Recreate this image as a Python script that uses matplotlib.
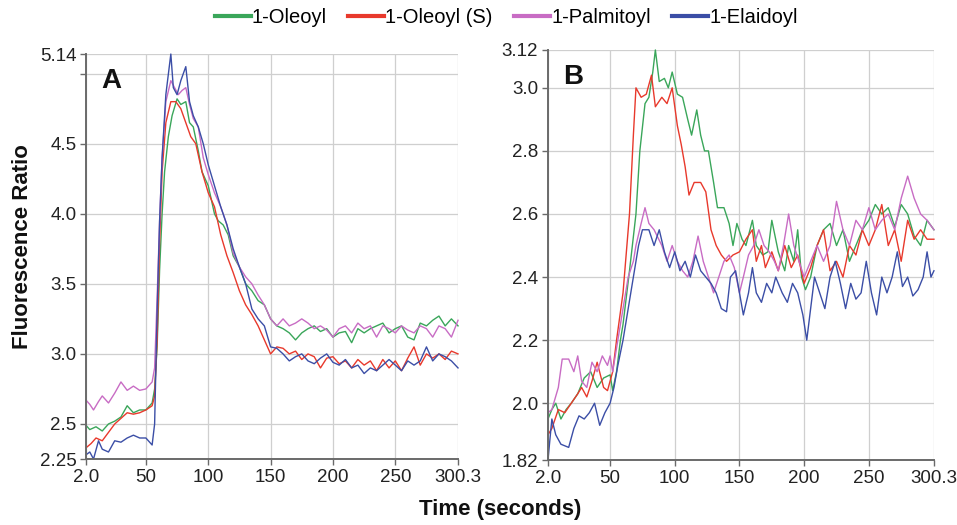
#!/usr/bin/env python3
"""
Fluorescence ratio traces, panels A and B, four lipid species.
Values read off the reference figure by eye.
"""

import matplotlib
matplotlib.use('Agg')
import matplotlib.pyplot as plt

plt.rcParams['font.family'] = ['Liberation Sans', 'DejaVu Sans']

# ---------- Series labels / colours ------------------------------------------

labels = ['1-Oleoyl', '1-Oleoyl (S)', '1-Palmitoyl', '1-Elaidoyl']
colors = ['#3aa65a', '#e8392c', '#c86cc4', '#3b4ea6']

# ---------- Panel A ----------------------------------------------------------

a_ole_t = [2, 5, 10, 15, 20, 25, 30, 35, 40, 45, 50, 55, 57, 59, 61, 63, 65, 68,
           71, 75, 78, 82, 85, 88, 92, 95, 100, 105, 108, 112, 116, 120, 125, 130,
           135, 140, 145, 150, 155, 160, 165, 170, 175, 180, 185, 190, 195, 200,
           205, 210, 215, 220, 225, 230, 235, 240, 245, 250, 255, 260, 265, 270,
           275, 280, 285, 290, 295, 300.3]
a_ole_v = [2.49, 2.46, 2.48, 2.45, 2.5, 2.52, 2.55, 2.63, 2.58, 2.6, 2.6, 2.65, 2.75,
           3.05, 3.6, 4.0, 4.3, 4.55, 4.7, 4.82, 4.78, 4.8, 4.65, 4.62, 4.45, 4.3,
           4.2, 4.0, 3.95, 3.92, 3.85, 3.7, 3.62, 3.5, 3.45, 3.38, 3.35, 3.25, 3.2,
           3.18, 3.15, 3.1, 3.15, 3.18, 3.2, 3.16, 3.18, 3.12, 3.15, 3.16, 3.08,
           3.18, 3.15, 3.18, 3.2, 3.22, 3.15, 3.18, 3.2, 3.12, 3.1, 3.22, 3.2, 3.24,
           3.27, 3.2, 3.25, 3.2]

a_oles_t = [2, 6, 10, 15, 20, 25, 30, 35, 40, 45, 50, 55, 57, 59, 61, 63, 66, 70, 74,
            78, 82, 86, 90, 95, 100, 105, 110, 115, 120, 125, 130, 135, 140, 145, 150,
            155, 160, 165, 170, 175, 180, 185, 190, 195, 200, 205, 210, 215, 220, 225,
            230, 235, 240, 245, 250, 255, 260, 265, 270, 275, 280, 285, 290, 295, 300.3]
a_oles_v = [2.33, 2.36, 2.4, 2.38, 2.44, 2.5, 2.54, 2.58, 2.57, 2.58, 2.6, 2.63, 2.7,
            3.1, 3.8, 4.3, 4.65, 4.8, 4.8, 4.75, 4.65, 4.55, 4.5, 4.3, 4.15, 4.05,
            3.85, 3.7, 3.58, 3.45, 3.35, 3.28, 3.2, 3.1, 3.0, 3.05, 3.04, 3.0, 3.02,
            2.96, 3.0, 2.98, 2.9, 2.97, 2.98, 2.93, 2.95, 2.9, 2.96, 2.92, 2.95, 2.88,
            2.96, 2.9, 2.95, 2.88, 2.97, 3.05, 2.92, 3.0, 2.97, 3.0, 2.96, 3.02, 3.0]

a_pal_t = [2, 5, 8, 12, 15, 20, 25, 30, 35, 40, 45, 50, 55, 57, 59, 61, 63, 66, 70,
           73, 76, 79, 82, 85, 88, 92, 96, 100, 105, 110, 115, 120, 125, 130, 135,
           140, 145, 150, 155, 160, 165, 170, 175, 180, 185, 190, 195, 200, 205, 210,
           215, 220, 225, 230, 235, 240, 245, 250, 255, 260, 265, 270, 275, 280, 285,
           290, 295, 300.3]
a_pal_v = [2.67, 2.64, 2.6, 2.66, 2.7, 2.65, 2.72, 2.8, 2.74, 2.77, 2.74, 2.75, 2.8,
           2.9, 3.4, 3.95, 4.4, 4.8, 4.95, 4.9, 4.85, 4.88, 4.9, 4.78, 4.68, 4.62, 4.4,
           4.28, 4.15, 4.05, 3.92, 3.72, 3.62, 3.55, 3.5, 3.42, 3.35, 3.25, 3.2, 3.25,
           3.2, 3.22, 3.25, 3.22, 3.18, 3.2, 3.17, 3.12, 3.18, 3.2, 3.15, 3.22, 3.18,
           3.2, 3.12, 3.2, 3.18, 3.15, 3.2, 3.17, 3.15, 3.2, 3.18, 3.12, 3.2, 3.18,
           3.12, 3.24]

a_ela_t = [2, 5, 8, 12, 15, 20, 25, 30, 35, 40, 45, 50, 55, 57, 59, 61, 63, 66, 70,
           72, 75, 78, 82, 85, 88, 92, 96, 100, 105, 110, 115, 120, 125, 130, 135,
           140, 145, 150, 155, 160, 165, 170, 175, 180, 185, 190, 195, 200, 205, 210,
           215, 220, 225, 230, 235, 240, 245, 250, 255, 260, 265, 270, 275, 280, 285,
           290, 295, 300.3]
a_ela_v = [2.28, 2.3, 2.25, 2.38, 2.32, 2.3, 2.38, 2.37, 2.4, 2.42, 2.4, 2.4, 2.35,
           2.5, 3.3, 3.95, 4.4, 4.85, 5.14, 4.9, 4.85, 4.95, 5.05, 4.8, 4.7, 4.62,
           4.5, 4.35, 4.2, 4.05, 3.92, 3.75, 3.62, 3.5, 3.32, 3.25, 3.2, 3.05, 3.04,
           3.0, 2.95, 2.98, 3.0, 2.95, 2.93, 2.97, 3.0, 2.94, 2.92, 2.96, 2.9, 2.92,
           2.86, 2.9, 2.88, 2.92, 2.96, 2.92, 2.88, 2.95, 2.92, 2.95, 3.05, 2.95,
           3.0, 2.98, 2.95, 2.9]

# ---------- Panel B ----------------------------------------------------------

b_ole_t = [2, 5, 8, 12, 16, 20, 25, 30, 35, 40, 45, 50, 52, 55, 58, 60, 65, 70, 73,
           77, 80, 83, 85, 88, 92, 95, 98, 102, 106, 110, 113, 117, 120, 123, 126,
           130, 133, 138, 142, 145, 148, 152, 155, 160, 163, 168, 172, 175, 180, 185,
           188, 192, 195, 198, 201, 205, 210, 215, 220, 225, 230, 235, 240, 245, 250,
           255, 260, 265, 270, 275, 280, 285, 290, 295, 300.3]
b_ole_v = [1.95, 1.98, 2.0, 1.95, 1.98, 2.0, 2.03, 2.08, 2.1, 2.05, 2.08, 2.09, 2.04,
           2.1, 2.2, 2.25, 2.42, 2.6, 2.8, 2.95, 2.97, 3.05, 3.12, 3.02, 3.03, 3.0,
           3.05, 2.98, 2.97, 2.9, 2.85, 2.93, 2.85, 2.8, 2.8, 2.7, 2.62, 2.62, 2.57,
           2.5, 2.57, 2.52, 2.5, 2.58, 2.5, 2.47, 2.48, 2.58, 2.48, 2.42, 2.5, 2.45,
           2.55, 2.4, 2.36, 2.4, 2.5, 2.55, 2.57, 2.5, 2.55, 2.45, 2.5, 2.55, 2.58,
           2.63, 2.6, 2.62, 2.56, 2.63, 2.6, 2.53, 2.5, 2.58, 2.55]

b_oles_t = [2, 5, 10, 15, 20, 25, 28, 32, 36, 40, 45, 48, 52, 55, 60, 65, 68, 70, 74,
            78, 82, 85, 90, 94, 98, 102, 105, 108, 111, 115, 120, 124, 128, 132, 136,
            140, 145, 150, 155, 160, 163, 167, 170, 175, 180, 185, 190, 195, 200, 205,
            210, 215, 220, 225, 230, 235, 240, 245, 250, 255, 260, 265, 270, 275, 280,
            285, 290, 295, 300.3]
b_oles_v = [1.9, 1.92, 1.98, 1.97, 2.0, 2.03, 2.05, 2.02, 2.07, 2.13, 2.05, 2.04, 2.1,
            2.2, 2.35, 2.6, 2.85, 3.0, 2.97, 2.98, 3.04, 2.94, 2.97, 2.95, 3.0, 2.88,
            2.82, 2.75, 2.66, 2.7, 2.7, 2.67, 2.55, 2.5, 2.47, 2.45, 2.47, 2.48, 2.52,
            2.55, 2.45, 2.5, 2.43, 2.48, 2.42, 2.5, 2.43, 2.47, 2.38, 2.43, 2.5, 2.55,
            2.42, 2.45, 2.4, 2.5, 2.47, 2.55, 2.5, 2.55, 2.63, 2.5, 2.55, 2.45, 2.58,
            2.52, 2.55, 2.52, 2.52]

b_pal_t = [2, 5, 10, 13, 18, 22, 25, 28, 32, 36, 40, 44, 48, 50, 52, 56, 60, 64, 68,
           70, 74, 77, 80, 84, 90, 94, 98, 102, 106, 110, 114, 118, 122, 126, 130,
           134, 138, 142, 146, 150, 153, 157, 161, 165, 169, 173, 177, 180, 184, 188,
           192, 196, 200, 205, 210, 215, 220, 225, 230, 235, 240, 245, 250, 255, 260,
           265, 270, 275, 280, 285, 290, 295, 300.3]
b_pal_v = [1.97, 1.98, 2.05, 2.14, 2.14, 2.1, 2.15, 2.07, 2.05, 2.13, 2.1, 2.15, 2.12,
           2.15, 2.1, 2.2, 2.3, 2.4, 2.45, 2.5, 2.57, 2.62, 2.57, 2.55, 2.5, 2.45, 2.5,
           2.45, 2.42, 2.4, 2.45, 2.53, 2.45, 2.4, 2.35, 2.4, 2.45, 2.47, 2.43, 2.35,
           2.4, 2.47, 2.5, 2.55, 2.5, 2.48, 2.45, 2.42, 2.5, 2.6, 2.5, 2.45, 2.4, 2.45,
           2.5, 2.45, 2.5, 2.64, 2.55, 2.5, 2.58, 2.55, 2.62, 2.55, 2.58, 2.6, 2.55,
           2.65, 2.72, 2.65, 2.6, 2.58, 2.55]

b_ela_t = [2, 5, 8, 12, 18, 22, 26, 30, 34, 38, 42, 46, 50, 53, 56, 60, 64, 68, 72,
           75, 80, 84, 88, 92, 96, 100, 104, 108, 112, 116, 120, 124, 128, 132, 136,
           140, 143, 147, 150, 153, 157, 160, 163, 167, 171, 175, 178, 183, 187, 191,
           195, 199, 202, 205, 208, 212, 216, 220, 224, 228, 232, 236, 240, 244, 248,
           252, 256, 260, 264, 268, 272, 276, 280, 284, 288, 292, 295, 298, 300.3]
b_ela_v = [1.82, 1.95, 1.9, 1.87, 1.86, 1.92, 1.96, 1.95, 1.97, 2.0, 1.93, 1.97, 2.0,
           2.05, 2.12, 2.2, 2.3, 2.4, 2.5, 2.55, 2.55, 2.5, 2.55, 2.48, 2.43, 2.48,
           2.42, 2.45, 2.4, 2.47, 2.42, 2.4, 2.38, 2.35, 2.3, 2.29, 2.4, 2.42, 2.35,
           2.28, 2.35, 2.43, 2.35, 2.32, 2.38, 2.35, 2.4, 2.35, 2.32, 2.38, 2.35, 2.28,
           2.2, 2.3, 2.4, 2.35, 2.3, 2.4, 2.45, 2.38, 2.3, 2.38, 2.33, 2.35, 2.45,
           2.35, 2.28, 2.4, 2.35, 2.4, 2.48, 2.37, 2.4, 2.34, 2.36, 2.4, 2.48, 2.4, 2.42]

# ---------- Axis settings ----------------------------------------------------

x_ticks = [2.0, 50, 100, 150, 200, 250, 300.3]
x_labels = ['2.0', '50', '100', '150', '200', '250', '300.3']

a_yticks = [2.25, 2.5, 3.0, 3.5, 4.0, 4.5, 5.0, 5.14]
a_ylabels = ['2.25', '2.5', '3.0', '3.5', '4.0', '4.5', '', '5.14']

b_yticks = [1.82, 2.0, 2.2, 2.4, 2.6, 2.8, 3.0, 3.12]
b_ylabels = ['1.82', '2.0', '2.2', '2.4', '2.6', '2.8', '3.0', '3.12']


def style_axis(ax, yticks, ylabels, letter):
    ax.set_xlim(2.0, 300.3)
    ax.set_ylim(yticks[0], yticks[-1])
    ax.set_xticks(x_ticks)
    ax.set_xticklabels(x_labels)
    ax.set_yticks(yticks)
    ax.set_yticklabels(ylabels)
    ax.grid(True, color='#cfcfcf', lw=0.9)
    ax.set_axisbelow(True)
    for s in ['top', 'right']:
        ax.spines[s].set_visible(False)
    for s in ['left', 'bottom']:
        ax.spines[s].set_color('#6a6a6a')
        ax.spines[s].set_linewidth(1.4)
    ax.tick_params(axis='both', direction='out', length=4, width=1,
                   color='#6a6a6a', labelsize=13.5, labelcolor='#222222', pad=3)
    ax.text(0.04, 0.965, letter, transform=ax.transAxes, fontsize=20,
            fontweight='bold', va='top', ha='left', color='#111111')


fig = plt.figure(figsize=(9.57, 5.25), dpi=100)
ax_a = fig.add_axes([0.0899, 0.1257, 0.3887, 0.7714])
ax_b = fig.add_axes([0.5726, 0.1238, 0.4033, 0.7810])

panel_a = [(a_ole_t, a_ole_v), (a_oles_t, a_oles_v),
           (a_pal_t, a_pal_v), (a_ela_t, a_ela_v)]
panel_b = [(b_ole_t, b_ole_v), (b_oles_t, b_oles_v),
           (b_pal_t, b_pal_v), (b_ela_t, b_ela_v)]

for (t, v), col, lbl in zip(panel_a, colors, labels):
    ax_a.plot(t, v, color=col, lw=1.0, label=lbl, clip_on=False)
for (t, v), col in zip(panel_b, colors):
    ax_b.plot(t, v, color=col, lw=1.0, clip_on=False)

style_axis(ax_a, a_yticks, a_ylabels, 'A')
style_axis(ax_b, b_yticks, b_ylabels, 'B')

leg = fig.legend(loc='center', bbox_to_anchor=(0.529, 0.966), ncol=4,
                 frameon=False, fontsize=14.5, handlelength=1.8, handletextpad=0.05,
                 columnspacing=1.05, borderpad=0.2)
for line in leg.get_lines():
    line.set_linewidth(3)

fig.text(0.023, 0.531, 'Fluorescence Ratio', rotation=90, fontsize=16,
         fontweight='bold', ha='center', va='center', color='#111111')
fig.text(0.523, 0.029, 'Time (seconds)', fontsize=16, fontweight='bold',
         ha='center', va='center', color='#111111')

fig.savefig('out.png', dpi=100)
